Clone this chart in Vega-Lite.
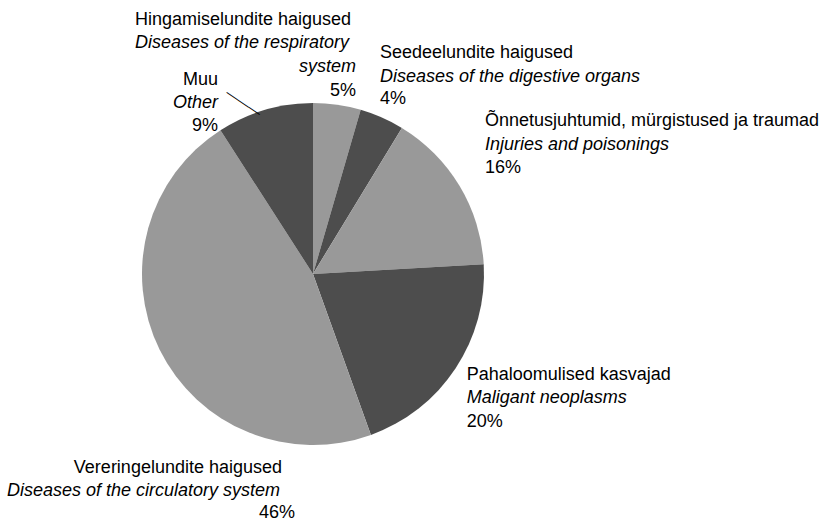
{
  "$schema": "https://vega.github.io/schema/vega-lite/v6.json",
  "width": 626,
  "height": 528,
  "autosize": "none",
  "padding": {"left": 0, "top": 10, "right": 198, "bottom": 0},
  "background": "white",
  "config": {
    "view": {"stroke": null},
    "text": {"font": "Liberation Sans", "fontSize": 18, "baseline": "alphabetic", "color": "black"}
  },
  "data": {
    "values": [
      {"key": "H", "ord": 1, "pct": 4.5, "et": "Hingamiselundite haigused", "en": "Diseases of the respiratory", "en2": "system", "label": "5%"},
      {"key": "S", "ord": 2, "pct": 4.2, "et": "Seedeelundite haigused", "en": "Diseases of the digestive organs", "en2": "", "label": "4%"},
      {"key": "O", "ord": 3, "pct": 15.4, "et": "Õnnetusjuhtumid, mürgistused ja traumad", "en": "Injuries and poisonings", "en2": "", "label": "16%"},
      {"key": "P", "ord": 4, "pct": 20.4, "et": "Pahaloomulised kasvajad", "en": "Maligant neoplasms", "en2": "", "label": "20%"},
      {"key": "V", "ord": 5, "pct": 46.4, "et": "Vereringelundite haigused", "en": "Diseases of the circulatory system", "en2": "", "label": "46%"},
      {"key": "M", "ord": 6, "pct": 9.1, "et": "Muu", "en": "Other", "en2": "", "label": "9%"}
    ]
  },
  "encoding": {
    "theta": {"field": "pct", "type": "quantitative", "stack": true},
    "order": {"field": "ord", "type": "quantitative"}
  },
  "layer": [
    {
      "mark": {"type": "arc", "radius": 171},
      "encoding": {
        "color": {"field": "key", "type": "nominal", "legend": null,
          "scale": {"domain": ["H", "S", "O", "P", "V", "M"], "range": ["#999999", "#4d4d4d", "#999999", "#4d4d4d", "#999999", "#4d4d4d"]}}
      }
    },
    {"mark": {"type": "text", "radius": 185, "align": "left", "dx": -204.1, "dy": -65.8},
     "encoding": {"text": {"condition": {"test": "datum.key === 'H'", "field": "et", "type": "nominal"}, "value": ""}}},
    {"mark": {"type": "text", "radius": 185, "align": "left", "dx": -204.1, "dy": -42.8, "fontStyle": "italic"},
     "encoding": {"text": {"condition": {"test": "datum.key === 'H'", "field": "en", "type": "nominal"}, "value": ""}}},
    {"mark": {"type": "text", "radius": 185, "align": "right", "dx": 16.9, "dy": -18.8, "fontStyle": "italic"},
     "encoding": {"text": {"condition": {"test": "datum.key === 'H'", "field": "en2", "type": "nominal"}, "value": ""}}},
    {"mark": {"type": "text", "radius": 185, "align": "right", "dx": 16.9, "dy": 5.2},
     "encoding": {"text": {"condition": {"test": "datum.key === 'H'", "field": "label", "type": "nominal"}, "value": ""}}},

    {"mark": {"type": "text", "radius": 185, "align": "left", "dx": -7.6, "dy": -46.7},
     "encoding": {"text": {"condition": {"test": "datum.key === 'S'", "field": "et", "type": "nominal"}, "value": ""}}},
    {"mark": {"type": "text", "radius": 185, "align": "left", "dx": -7.6, "dy": -22.7, "fontStyle": "italic"},
     "encoding": {"text": {"condition": {"test": "datum.key === 'S'", "field": "en", "type": "nominal"}, "value": ""}}},
    {"mark": {"type": "text", "radius": 185, "align": "left", "dx": -7.6, "dy": -0.7},
     "encoding": {"text": {"condition": {"test": "datum.key === 'S'", "field": "label", "type": "nominal"}, "value": ""}}},

    {"mark": {"type": "text", "radius": 185, "align": "left", "dx": 13.3, "dy": -52.8},
     "encoding": {"text": {"condition": {"test": "datum.key === 'O'", "field": "et", "type": "nominal"}, "value": ""}}},
    {"mark": {"type": "text", "radius": 185, "align": "left", "dx": 13.3, "dy": -28.8, "fontStyle": "italic"},
     "encoding": {"text": {"condition": {"test": "datum.key === 'O'", "field": "en", "type": "nominal"}, "value": ""}}},
    {"mark": {"type": "text", "radius": 185, "align": "left", "dx": 13.3, "dy": -5.8},
     "encoding": {"text": {"condition": {"test": "datum.key === 'O'", "field": "label", "type": "nominal"}, "value": ""}}},

    {"mark": {"type": "text", "radius": 185, "align": "left", "dx": -0.6, "dy": 4},
     "encoding": {"text": {"condition": {"test": "datum.key === 'P'", "field": "et", "type": "nominal"}, "value": ""}}},
    {"mark": {"type": "text", "radius": 185, "align": "left", "dx": -0.6, "dy": 27, "fontStyle": "italic"},
     "encoding": {"text": {"condition": {"test": "datum.key === 'P'", "field": "en", "type": "nominal"}, "value": ""}}},
    {"mark": {"type": "text", "radius": 185, "align": "left", "dx": -0.6, "dy": 51},
     "encoding": {"text": {"condition": {"test": "datum.key === 'P'", "field": "label", "type": "nominal"}, "value": ""}}},

    {"mark": {"type": "text", "radius": 185, "align": "right", "dx": 134.9, "dy": 117.1},
     "encoding": {"text": {"condition": {"test": "datum.key === 'V'", "field": "et", "type": "nominal"}, "value": ""}}},
    {"mark": {"type": "text", "radius": 185, "align": "right", "dx": 132.9, "dy": 140.1, "fontStyle": "italic"},
     "encoding": {"text": {"condition": {"test": "datum.key === 'V'", "field": "en", "type": "nominal"}, "value": ""}}},
    {"mark": {"type": "text", "radius": 185, "align": "right", "dx": 147.9, "dy": 162.1},
     "encoding": {"text": {"condition": {"test": "datum.key === 'V'", "field": "label", "type": "nominal"}, "value": ""}}},

    {"mark": {"type": "text", "radius": 185, "align": "right", "dx": -42.8, "dy": -11.5},
     "encoding": {"text": {"condition": {"test": "datum.key === 'M'", "field": "et", "type": "nominal"}, "value": ""}}},
    {"mark": {"type": "text", "radius": 185, "align": "right", "dx": -42.8, "dy": 11.5, "fontStyle": "italic"},
     "encoding": {"text": {"condition": {"test": "datum.key === 'M'", "field": "en", "type": "nominal"}, "value": ""}}},
    {"mark": {"type": "text", "radius": 185, "align": "right", "dx": -42.8, "dy": 34.5},
     "encoding": {"text": {"condition": {"test": "datum.key === 'M'", "field": "label", "type": "nominal"}, "value": ""}}},
    {"mark": {"type": "text", "radius": 185, "align": "center", "baseline": "middle", "angle": 33.7, "dx": -10.8, "dy": 15.0, "fontSize": 13.3},
     "encoding": {"text": {"condition": {"test": "datum.key === 'M'", "value": "———"}, "value": ""}}}
  ]
}
